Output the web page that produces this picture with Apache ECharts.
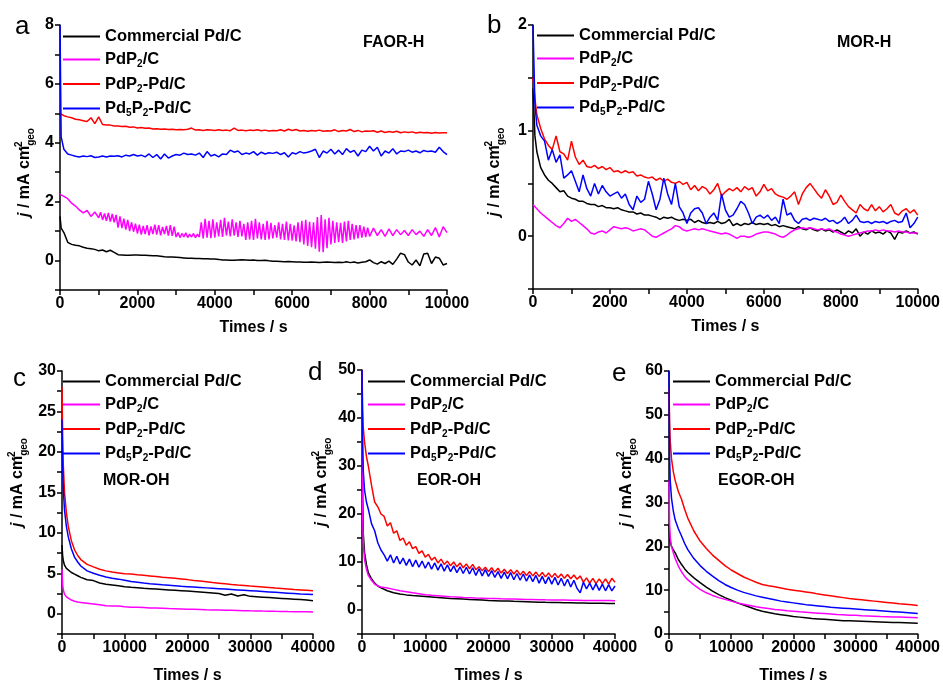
<!DOCTYPE html>
<html><head><meta charset="utf-8">
<script src="https://cdn.jsdelivr.net/npm/echarts@6/dist/echarts.min.js"></script>
<style>html,body{margin:0;padding:0;background:#fff}#c{width:943px;height:685px}</style>
</head><body><div id="c"></div>
<script>
const seriesNames = ['Commercial Pd/C','PdP2/C','PdP2-Pd/C','Pd5P2-Pd/C'];
const seriesColors = ['#000000','#ff00ff','#ff0000','#0000ff'];
const panelLetters = ['a','b','c','d','e'];
const panelTitles = ['FAOR-H','MOR-H','MOR-OH','EOR-OH','EGOR-OH'];
const xAxisTitle = 'Times / s';

// ---------- panel a : FAOR-H ----------
const tA = [0,30,100,200,300,400,500,600,700,800,900,1000,1100,1200,1300,1400,1500,1600,1700,1800,1900,2000,2100,2200,2300,2400,2500,2600,2700,2800,2900,3000,3100,3200,3300,3400,3500,3600,3700,3800,3900,4000,4100,4200,4300,4400,4500,4600,4700,4800,4900,5000,5100,5200,5300,5400,5500,5600,5700,5800,5900,6000,6100,6200,6300,6400,6500,6600,6700,6800,6900,7000,7100,7200,7300,7400,7500,7600,7700,7800,7900,8000,8100,8200,8300,8400,8500,8600,8700,8800,8900,9000,9100,9200,9300,9400,9500,9600,9700,9800,9900,10000];
const tAfine = [0,30,100,200,300,400,500,600,700,800,900,
1000,1050,1100,1150,1200,1250,1300,1350,1400,1450,
1500,1550,1600,1650,1700,1750,1800,1850,1900,1950,
2000,2050,2100,2150,2200,2250,2300,2350,2400,2450,
2500,2550,2600,2650,2700,2750,2800,2850,2900,2950,
3000,3050,3100,3150,3200,3250,3300,3350,3400,3450,
3500,3550,3600,3650,3700,3750,3800,3850,3900,3950,
4000,4050,4100,4150,4200,4250,4300,4350,4400,4450,
4500,4550,4600,4650,4700,4750,4800,4850,4900,4950,
5000,5050,5100,5150,5200,5250,5300,5350,5400,5450,
5500,5550,5600,5650,5700,5750,5800,5850,5900,5950,
6000,6050,6100,6150,6200,6250,6300,6350,6400,6450,
6500,6550,6600,6650,6700,6750,6800,6850,6900,6950,
7000,7050,7100,7150,7200,7250,7300,7350,7400,7450,
7500,7550,7600,7650,7700,7750,7800,7850,7900,7950,
8000,
8100,8200,8300,8400,8500,8600,8700,8800,8900,9000,
9100,9200,9300,9400,9500,9600,9700,9800,9900,10000];
const aCommercial = [1.5,1.1,
0.95,0.62,0.55,0.52,0.5,0.45,0.42,0.4,0.38,0.33,
0.36,0.3,0.35,0.28,0.2,0.19,0.18,0.18,0.19,0.19,
0.18,0.18,0.17,0.16,0.16,0.15,0.13,0.12,0.12,0.11,
0.1,0.09,0.08,0.08,0.07,0.07,0.06,0.06,0.05,0.05,
0.04,0.02,0.02,0.01,0.01,0.02,0.03,0.02,0.01,0.02,
0,0,0.01,-0.01,-0.02,-0.02,-0.03,-0.04,-0.03,-0.04,
-0.05,-0.05,-0.06,-0.06,-0.05,-0.06,-0.07,-0.06,-0.05,-0.06,
-0.07,-0.06,-0.07,-0.04,-0.07,-0.05,-0.08,-0.06,-0.04,0.02,
-0.07,-0.12,-0.04,-0.1,-0.02,-0.13,0.05,0.25,0.2,-0.05,
-0.15,0.02,-0.18,0.22,0.25,-0.1,0.12,0.08,-0.15,-0.1];
const aPdP2 = [2.25,2.2,2.18,2.1,1.95,1.85,1.72,1.62,1.7,1.5,1.65,
1.45,1.64,1.38,1.6,1.35,1.62,1.32,1.58,1.3,1.55,
1.12,1.5,1.1,1.42,1.05,1.38,1.0,1.3,0.98,1.25,
0.92,1.22,0.88,1.18,0.9,1.2,0.86,1.16,0.9,1.22,
0.88,1.2,0.86,1.14,0.9,1.18,0.85,1.2,0.84,1.15,
0.8,0.95,0.78,0.92,0.8,0.94,0.78,0.9,0.8,0.92,
0.78,0.9,0.8,1.3,0.75,1.42,0.78,1.35,0.76,1.4,
0.78,1.3,0.82,1.38,0.8,1.45,0.85,1.32,0.82,1.4,
0.85,1.3,0.8,1.35,0.82,1.25,0.7,1.3,0.72,1.35,
0.7,1.42,0.75,1.3,0.72,1.25,0.7,1.35,0.72,1.28,
0.75,1.2,0.78,1.3,0.72,1.25,0.7,1.32,0.68,1.25,
0.68,1.2,0.65,1.3,0.62,1.35,0.55,1.38,0.5,1.32,
0.45,1.3,0.4,1.48,0.3,1.55,0.28,1.4,0.42,1.45,
0.55,1.35,0.6,1.3,0.62,1.28,0.6,1.32,0.65,1.35,
0.7,1.25,0.72,1.2,0.75,1.2,0.78,1.15,0.8,1.12,
0.82,
1.1,0.85,1.05,0.82,1.08,0.85,1.05,0.88,1.02,0.85,
1.05,0.88,1.0,0.82,1.05,0.85,1.12,0.8,1.15,0.95];
const aPdP2Pd = [5.0,4.95,
4.92,4.88,4.85,4.8,4.78,4.75,4.72,4.85,4.65,4.88,
4.62,4.6,4.6,4.57,4.57,4.55,4.56,4.53,4.54,4.5,
4.52,4.49,4.5,4.47,4.48,4.46,4.47,4.45,4.46,4.44,
4.45,4.44,4.46,4.5,4.43,4.44,4.42,4.44,4.43,4.42,
4.44,4.42,4.43,4.41,4.5,4.42,4.43,4.41,4.43,4.42,
4.44,4.41,4.43,4.4,4.42,4.41,4.44,4.4,4.46,4.42,
4.45,4.4,4.42,4.39,4.42,4.4,4.43,4.39,4.41,4.4,
4.44,4.38,4.42,4.4,4.45,4.38,4.42,4.37,4.4,4.39,
4.41,4.36,4.4,4.35,4.38,4.36,4.39,4.34,4.37,4.35,
4.37,4.33,4.36,4.34,4.35,4.32,4.35,4.33,4.34,4.34];
const aPd5P2Pd = [8.0,4.2,
3.78,3.62,3.58,3.54,3.52,3.55,3.53,3.56,3.5,3.52,
3.55,3.52,3.55,3.54,3.56,3.52,3.58,3.55,3.6,3.55,
3.58,3.52,3.62,3.5,3.6,3.45,3.62,3.48,3.55,3.6,
3.58,3.65,3.6,3.62,3.58,3.65,3.5,3.7,3.55,3.6,
3.52,3.62,3.6,3.75,3.68,3.72,3.6,3.65,3.62,3.7,
3.58,3.68,3.62,3.66,3.64,3.68,3.6,3.66,3.52,3.66,
3.62,3.7,3.65,3.68,3.72,3.78,3.5,3.72,3.65,3.78,
3.62,3.75,3.6,3.8,3.68,3.74,3.55,3.75,3.7,3.88,
3.72,3.85,3.55,3.72,3.65,3.8,3.62,3.72,3.7,3.75,
3.68,3.72,3.66,3.74,3.7,3.72,3.68,3.85,3.7,3.6];

// ---------- panel b : MOR-H ----------
const tB = [0,50,100,200,300,400,500,600,700,800,900,1000,1100,1200,1300,1400,1500,1600,1700,1800,1900,2000,2100,2200,2300,2400,2500,2600,2700,2800,2900,3000,3100,3200,3300,3400,3500,3600,3700,3800,3900,4000,4100,4200,4300,4400,4500,4600,4700,4800,4900,5000,5100,5200,5300,5400,5500,5600,5700,5800,5900,6000,6100,6200,6300,6400,6500,6600,6700,6800,6900,7000,7100,7200,7300,7400,7500,7600,7700,7800,7900,8000,8100,8200,8300,8400,8500,8600,8700,8800,8900,9000,9100,9200,9300,9400,9500,9600,9700,9800,9900,10000];
const bCommercial = [1.4,0.95,
0.8,0.65,0.58,0.53,0.5,0.46,0.42,0.43,0.38,0.36,
0.35,0.33,0.33,0.31,0.3,0.3,0.28,0.29,0.27,0.27,
0.26,0.27,0.25,0.24,0.23,0.23,0.21,0.22,0.2,0.2,
0.19,0.18,0.16,0.18,0.17,0.18,0.16,0.15,0.16,0.15,
0.16,0.13,0.15,0.13,0.12,0.13,0.12,0.14,0.12,0.13,
0.16,0.1,0.12,0.1,0.12,0.11,0.13,0.11,0.12,0.11,
0.12,0.1,0.11,0.09,0.1,0.09,0.08,0.07,0.09,0.07,
0.06,0.08,0.06,0.05,0.07,0.05,0.06,0.04,0.06,0.04,
0.02,0.05,0.03,0.07,0,0.04,0.02,0.05,0.03,0.04,
0.02,0.05,0.03,-0.03,0.04,0.03,0.05,0.03,0.04,0.02];
const bPdP2 = [0.3,0.28,
0.26,0.22,0.19,0.16,0.13,0.1,0.08,0.12,0.17,0.14,
0.16,0.13,0.1,0.07,0.03,0.02,0.04,0.05,0.03,0.06,
0.09,0.08,0.07,0.08,0.07,0.05,0.06,0.07,0.06,0.03,
0,-0.01,0.01,0.03,0.05,0.07,0.1,0.09,0.06,0.05,
0.06,0.07,0.06,0.07,0.06,0.05,0.04,0.03,0.02,0.03,
0.02,0,-0.02,0,0,-0.01,0,0.02,0.03,0.04,
0.04,0.03,0.02,0,-0.01,0.01,0.04,0.06,0.07,0.08,
0.07,0.08,0.07,0.06,0.07,0.06,0.07,0.05,0.04,0.02,
0.01,0,0.01,0.02,0.03,0.04,0.05,0.05,0.06,0.05,
0.06,0.05,0.05,0.04,0.05,0.04,0.04,0.03,0.03,0.03];
const bPdP2Pd = [1.5,1.3,
1.15,1.02,0.92,0.86,0.82,0.95,0.8,0.78,0.72,0.9,
0.75,0.68,0.72,0.66,0.65,0.67,0.64,0.66,0.63,0.65,
0.61,0.62,0.6,0.62,0.6,0.61,0.57,0.58,0.56,0.55,
0.56,0.53,0.55,0.52,0.54,0.51,0.5,0.52,0.49,0.51,
0.44,0.48,0.43,0.47,0.45,0.4,0.44,0.5,0.38,0.42,
0.45,0.43,0.46,0.42,0.47,0.44,0.46,0.38,0.42,0.49,
0.43,0.45,0.4,0.38,0.37,0.35,0.38,0.42,0.3,0.4,
0.46,0.5,0.45,0.4,0.36,0.44,0.38,0.3,0.32,0.39,
0.33,0.28,0.25,0.22,0.3,0.26,0.24,0.3,0.24,0.28,
0.23,0.26,0.3,0.22,0.2,0.24,0.26,0.22,0.25,0.2];
const bPd5P2Pd = [2.0,1.25,
1.05,0.95,0.9,0.72,0.82,0.7,0.77,0.55,0.58,0.62,
0.52,0.42,0.58,0.45,0.38,0.5,0.4,0.48,0.42,0.38,
0.4,0.42,0.36,0.4,0.3,0.25,0.38,0.32,0.35,0.52,
0.4,0.25,0.35,0.55,0.4,0.3,0.5,0.28,0.22,0.12,
0.22,0.26,0.27,0.22,0.12,0.18,0.22,0.15,0.4,0.25,
0.18,0.2,0.26,0.33,0.3,0.22,0.12,0.18,0.2,0.17,
0.2,0.15,0.18,0.12,0.35,0.2,0.22,0.15,0.12,0.16,
0.17,0.15,0.17,0.16,0.15,0.17,0.14,0.15,0.12,0.14,
0.18,0.12,0.15,0.2,0.14,0.13,0.14,0.12,0.14,0.13,
0.14,0.12,0.14,0.15,0.13,0.14,0.22,0.08,0.12,0.18];

// ---------- panels c, d, e : long runs ----------
const tC = [0,100,200,400,700,1000,1500,2000,2500,3000,
4000,5000,6000,7000,8000,9000,10000,
11000,12000,13000,14000,15000,16000,17000,18000,19000,20000,
21000,22000,23000,24000,25000,26000,27000,28000,29000,30000,
31000,32000,33000,34000,35000,36000,37000,38000,39000,40000];
const tD = [0,100,200,400,700,1000,1500,2000,2500,3000,
3500,4000,4500,5000,5500,6000,6500,7000,7500,8000,
8500,9000,9500,10000,10500,11000,11500,12000,12500,13000,
13500,14000,14500,15000,15500,16000,16500,17000,17500,18000,
18500,19000,19500,20000,20500,21000,21500,22000,22500,23000,
23500,24000,24500,25000,25500,26000,26500,27000,27500,28000,
28500,29000,29500,30000,30500,31000,31500,32000,32500,33000,
33500,34000,34500,35000,35500,36000,36500,37000,37500,38000,
38500,39000,39500,40000];

const cCommercial = [8.5,7.2,6.6,6.0,5.6,5.4,5.1,4.9,4.7,4.5,
4.2,4.1,3.8,3.65,3.55,3.45,3.35,
3.28,3.22,3.15,3.1,3.05,3.0,2.95,2.9,2.85,2.8,
2.74,2.68,2.62,2.56,2.5,2.3,2.45,2.2,2.35,2.15,
2.1,2.05,2.0,1.95,1.9,1.85,1.8,1.75,1.7,1.62];
const cPdP2 = [5.5,3.6,3.0,2.4,2.1,1.9,1.7,1.55,1.45,1.4,
1.3,1.2,1.1,1.0,0.95,0.95,0.88,
0.82,0.8,0.76,0.72,0.7,0.67,0.64,0.62,0.6,0.57,
0.55,0.53,0.5,0.48,0.46,0.44,0.42,0.4,0.38,0.36,
0.35,0.33,0.32,0.3,0.29,0.27,0.26,0.25,0.24,0.22];
const cPdP2Pd = [28,22,18.5,15,12.5,10.8,9.0,7.9,7.2,6.7,
6.1,5.8,5.5,5.3,5.15,5.05,4.95,
4.9,4.82,4.75,4.68,4.6,4.5,4.45,4.38,4.3,4.22,
4.12,4.05,3.95,3.85,3.78,3.7,3.62,3.55,3.5,3.42,
3.38,3.32,3.25,3.18,3.12,3.06,3.0,2.95,2.9,2.85];
const cPd5P2Pd = [24,18.5,15.5,12.8,10.8,9.5,8.0,7.0,6.4,5.9,
5.3,5.0,4.75,4.55,4.4,4.28,4.15,
4.0,3.9,3.8,3.72,3.65,3.58,3.52,3.46,3.4,3.35,
3.3,3.25,3.2,3.15,3.1,3.05,3.0,2.95,2.9,2.85,
2.8,2.75,2.7,2.65,2.6,2.55,2.5,2.45,2.42,2.38];

const dCommercial = [50,25,16,12,9.5,7.8,6.5,5.6,5.0,4.6,
4.0,3.6,3.35,3.15,3.0,2.9,2.8,
2.7,2.6,2.5,2.4,2.35,2.28,2.2,2.15,2.08,2.0,
1.95,1.9,1.85,1.8,1.76,1.72,1.68,1.64,1.6,1.57,
1.55,1.52,1.5,1.47,1.45,1.43,1.41,1.4,1.38,1.37];
const dPdP2 = [45,20,14,10.5,8.5,7.2,6.2,5.4,5.0,4.8,
4.6,4.3,4.0,3.8,3.6,3.4,3.2,
3.05,2.95,2.85,2.75,2.7,2.62,2.56,2.5,2.45,2.4,
2.37,2.33,2.3,2.27,2.24,2.21,2.18,2.15,2.12,2.1,
2.08,2.06,2.04,2.02,2.0,1.99,1.98,1.97,1.96,1.95];
const dPdP2Pd = [50,42,38,35,32,30,26,22.5,21.5,20,
19.5,17.5,18.2,16,16.5,14.5,15,13.5,14.2,12.8,
13.2,11.8,12.3,11,11.6,10.4,11,9.8,10.6,9.5,
10.2,9.2,10,9.0,9.8,8.8,9.6,8.6,9.5,8.4,
9.0,8.2,8.9,8.0,8.8,7.9,8.7,7.7,8.5,7.6,
8.4,7.5,8.3,7.3,8.1,7.2,8.0,7.1,7.9,7.0,
7.8,6.9,7.7,6.8,7.6,6.7,7.5,6.6,7.4,6.5,
7.3,6.4,7.1,5.8,6.7,5.6,6.6,5.5,6.5,5.5,
6.5,5.4,6.6,5.8];
const dPd5P2Pd = [50,35,29,25,22.5,21,18,16.5,14,12.5,
11.5,10.2,11.5,9.8,11.2,9.6,10.8,9.3,10.6,9.0,
10.4,8.9,10.2,8.7,10,8.5,9.8,8.3,9.6,8.1,
9.4,8.0,9.2,7.8,9.0,7.6,8.9,7.5,8.8,7.2,
8.6,7.1,8.4,7.0,8.2,6.8,8.0,6.6,7.9,6.5,
7.8,6.3,7.6,6.2,7.5,6.0,7.3,5.9,7.2,5.6,
7.0,5.5,6.9,5.4,6.8,5.2,6.6,5.0,6.4,4.8,
6.2,4.5,3.6,5.8,4.4,5.6,4.2,5.5,4.1,5.4,
4.0,5.3,4.0,5.0];

const eCommercial = [25,22,21,20,19.2,18.5,17,15.9,14.9,14.1,
12.8,11.7,10.7,9.8,9.0,8.3,7.7,
7.1,6.6,6.1,5.6,5.2,4.9,4.6,4.4,4.2,4.0,
3.85,3.7,3.55,3.45,3.35,3.25,3.15,3.05,3.0,2.95,
2.9,2.85,2.8,2.75,2.7,2.65,2.6,2.55,2.5,2.45];
const ePdP2 = [35,25,22,20,18.5,17.2,15.5,14.2,13.2,12.4,
11.2,10.2,9.4,8.8,8.3,7.9,7.5,
7.1,6.8,6.5,6.2,6.0,5.8,5.6,5.45,5.3,5.2,
5.05,4.95,4.85,4.75,4.65,4.55,4.45,4.38,4.3,4.25,
4.18,4.12,4.06,4.0,3.95,3.9,3.85,3.8,3.75,3.7];
const ePdP2Pd = [56,48,44,40,37,35,32.5,30.8,28.5,26.5,
23.5,21.2,19.5,18.0,16.8,15.6,14.6,
13.8,13.0,12.4,11.8,11.3,11.0,10.8,10.5,10.2,10.0,
9.8,9.6,9.4,9.1,8.9,8.7,8.5,8.3,8.1,7.95,
7.8,7.65,7.5,7.35,7.2,7.05,6.9,6.8,6.65,6.5];
const ePd5P2Pd = [60,40,35,31,28,26,24,22.4,20.7,19.3,
17.2,15.6,14.3,13.2,12.2,11.3,10.6,
10.0,9.5,9.1,8.7,8.4,8.1,7.8,7.5,7.3,7.1,
6.9,6.7,6.55,6.4,6.25,6.1,6.0,5.9,5.8,5.7,
5.6,5.5,5.4,5.3,5.2,5.1,5.0,4.9,4.8,4.7];

// axis ranges: [min, max, tick interval, label step]
const xRanges = [[0,10000,1000,2000],[0,10000,1000,2000],[0,40000,5000,10000],[0,40000,5000,10000],[0,40000,5000,10000]];
const yRanges = [[-1,8,1,2],[-0.5,2,0.5,1],[-2.5,30,2.5,5],[-5,50,5,10],[0,60,5,10]];

const panelSeries = [
  {t:[tA,tAfine,tA,tA], v:[aCommercial,aPdP2,aPdP2Pd,aPd5P2Pd]},
  {t:[tB,tB,tB,tB], v:[bCommercial,bPdP2,bPdP2Pd,bPd5P2Pd]},
  {t:[tC,tC,tC,tC], v:[cCommercial,cPdP2,cPdP2Pd,cPd5P2Pd]},
  {t:[tC,tC,tD,tD], v:[dCommercial,dPdP2,dPdP2Pd,dPd5P2Pd]},
  {t:[tC,tC,tC,tC], v:[eCommercial,ePdP2,ePdP2Pd,ePd5P2Pd]}
];

// ---------- layout (pixels) ----------
const FONT = '"Liberation Sans", Arial, sans-serif';
const grids = [
  {left:60, top:25, width:387, height:265},
  {left:533, top:25, width:388, height:264},
  {left:62, top:371, width:251, height:264},
  {left:362, top:370, width:253, height:265},
  {left:669, top:371, width:253, height:263}
];
const legendPos = [[63,28],[537,27],[63,373],[368,373],[673,373]];
const titlePos = [[363,35],[837,35],[103,473],[417,473],[718,473]];
const letterPos = [[15,14],[487,13],[13,366],[308,360],[612,361]];
const yNameGap = [24,27,33,29,31];
const yNameShift = [15,15,-20,-20,-20];
const xNameGap = [30,30,34,34,34];

const richLegend = {
  n:{fontSize:16.5,fontWeight:'bold',fontFamily:FONT,color:'#000',lineHeight:20},
  s:{fontSize:10,fontWeight:'bold',fontFamily:FONT,color:'#000',lineHeight:10,verticalAlign:'bottom'}
};
const legendText = {
  'Commercial Pd/C':'{n|Commercial Pd/C}',
  'PdP2/C':'{n|PdP}{s|2}{n|/C}',
  'PdP2-Pd/C':'{n|PdP}{s|2}{n|-Pd/C}',
  'Pd5P2-Pd/C':'{n|Pd}{s|5}{n|P}{s|2}{n|-Pd/C}'
};
const richY = {
  i:{fontSize:16,fontWeight:'bold',fontStyle:'italic',fontFamily:FONT,color:'#000',lineHeight:22},
  n:{fontSize:16,fontWeight:'bold',fontFamily:FONT,color:'#000',lineHeight:22},
  sup:{fontSize:10,fontWeight:'bold',fontFamily:FONT,color:'#000',lineHeight:11,verticalAlign:'top',width:0},
  sub:{fontSize:10,fontWeight:'bold',fontFamily:FONT,color:'#000',lineHeight:11,verticalAlign:'bottom'}
};

function isStep(v, step){ const r = v/step; return Math.abs(r-Math.round(r))<1e-6; }
const axisLineStyle = {color:'#000', width:1.5};
const labelStyle = {fontSize:16, fontWeight:'bold', fontFamily:FONT, color:'#000'};

const option = {
  animation:false,
  backgroundColor:'#fff',
  textStyle:{fontFamily:FONT},
  grid: grids.map(g=>Object.assign({containLabel:false}, g)),
  title: [].concat(
    panelLetters.map((l,i)=>({text:l, left:letterPos[i][0], top:letterPos[i][1], padding:0,
      textStyle:{fontSize:26, fontWeight:'normal', fontFamily:FONT, color:'#000'}})),
    panelTitles.map((l,i)=>({text:l, left:titlePos[i][0], top:titlePos[i][1], padding:0,
      textStyle:{fontSize:16, fontWeight:'bold', fontFamily:FONT, color:'#000'}}))
  ),
  legend: grids.map((g,i)=>({
    data: seriesNames, orient:'vertical', left:legendPos[i][0], top:legendPos[i][1],
    padding:0, itemWidth:37, itemHeight:2, itemGap:6, icon:'rect', selectedMode:false,
    formatter: name => legendText[name], textStyle:{rich:richLegend}
  })),
  xAxis: grids.map((g,i)=>({
    type:'value', gridIndex:i, min:xRanges[i][0], max:xRanges[i][1], interval:xRanges[i][2],
    name:xAxisTitle, nameLocation:'middle', nameGap:xNameGap[i],
    nameTextStyle:{fontSize:16, fontWeight:'bold', fontFamily:FONT, color:'#000'},
    axisLine:{show:true, onZero:false, lineStyle:axisLineStyle},
    axisTick:{show:true, inside:false, length:5, lineStyle:{color:'#000', width:1.5}},
    splitLine:{show:false},
    axisLabel:Object.assign({margin:6, formatter:v=> isStep(v,xRanges[i][3]) ? String(v) : ''}, labelStyle)
  })),
  yAxis: grids.map((g,i)=>({
    type:'value', gridIndex:i, min:yRanges[i][0], max:yRanges[i][1], interval:yRanges[i][2],
    name:'{i|j}{n| / mA cm}{sup|-2}{sub|geo}', nameLocation:'middle', nameGap:yNameGap[i],
    nameTextStyle:{rich:richY, padding: yNameShift[i]>0 ? [0,2*yNameShift[i],0,0] : [0,0,0,-2*yNameShift[i]]},
    axisLine:{show:true, onZero:false, lineStyle:axisLineStyle},
    axisTick:{show:true, inside:false, length:5, lineStyle:{color:'#000', width:1.5}},
    splitLine:{show:false},
    axisLabel:Object.assign({margin:6, formatter:v=> isStep(v,yRanges[i][3]) ? String(Math.round(v)) : ''}, labelStyle)
  })),
  series: []
};

panelSeries.forEach((p,i)=>{
  seriesNames.forEach((nm,s)=>{
    const t = p.t[s], v = p.v[s];
    option.series.push({
      type:'line', name:nm, xAxisIndex:i, yAxisIndex:i,
      data: t.map((x,k)=>[x, v[k]]),
      showSymbol:false, symbol:'none', silent:true,
      lineStyle:{width:1.5, color:seriesColors[s]}, itemStyle:{color:seriesColors[s]}
    });
  });
});

const chart = echarts.init(document.getElementById('c'));
chart.setOption(option);
</script>
</body></html>
